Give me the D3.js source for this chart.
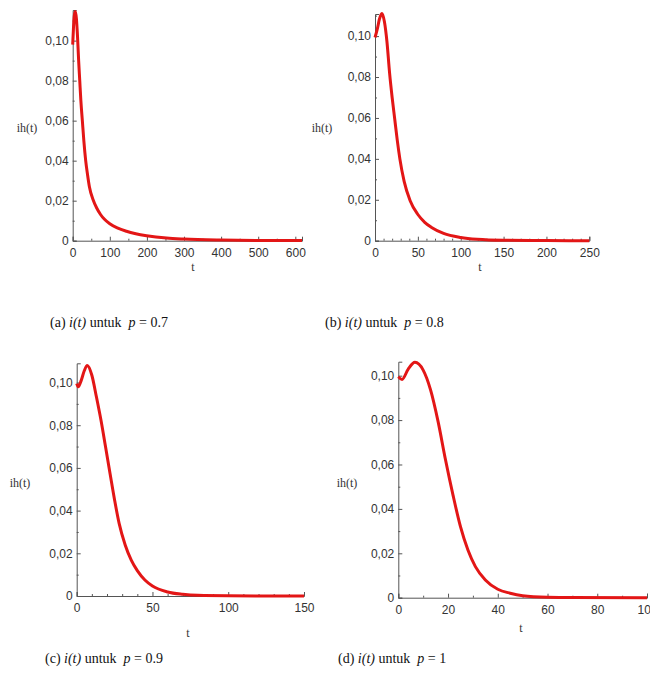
<!DOCTYPE html>
<html>
<head>
<meta charset="utf-8">
<script src="https://cdn.jsdelivr.net/npm/d3@7/dist/d3.min.js"></script>
<style>
body { margin: 0; background: #fff; }
.tick text { font-family: "Liberation Sans", sans-serif; font-size: 12px; fill: #333; }
</style>
</head>
<body>
<div id="chart"></div>
<script>
// series: t and ih(t) for each p
var tA = [0, 2, 4, 7, 10, 13, 16, 19, 22, 26, 30, 35, 40, 45, 55, 65, 75, 85, 100, 120, 145, 170, 199, 253, 300, 400, 500, 618];
var iA = [0.098, 0.106, 0.112, 0.1145, 0.111, 0.102, 0.090, 0.080, 0.070, 0.060, 0.050, 0.040, 0.033, 0.027, 0.0205, 0.0162, 0.0131, 0.0108, 0.0085, 0.0064, 0.0047, 0.0035, 0.0025, 0.0013, 0.0008, 0.0003, 0.0001, 0.00005];

var tB = [0, 3, 5, 8, 11, 14, 17, 20, 23, 26, 29, 34, 41, 50, 58, 66, 80, 100, 119, 150, 200, 250];
var iB = [0.0993, 0.104, 0.108, 0.111, 0.107, 0.097, 0.082, 0.070, 0.0595, 0.049, 0.040, 0.029, 0.0195, 0.0128, 0.009, 0.0065, 0.0036, 0.0016, 0.0007, 0.0002, 0.00005, 0];

var tC = [0, 1, 3, 5, 7, 10, 13, 16, 19, 22, 25, 28, 32, 36, 40, 45, 50, 60, 70, 80, 100, 150];
var iC = [0.0995, 0.098, 0.101, 0.1055, 0.108, 0.1034, 0.0933, 0.0824, 0.070, 0.0574, 0.045, 0.034, 0.0239, 0.0168, 0.0119, 0.0075, 0.0047, 0.0019, 0.0008, 0.0003, 0.0001, 0];

var tD = [0, 1.5, 4, 6.7, 10, 13, 16, 19, 22, 25, 28, 31, 35, 40, 45, 50, 60, 70, 100];
var iD = [0.0995, 0.0983, 0.103, 0.106, 0.1025, 0.0935, 0.0793, 0.062, 0.0462, 0.032, 0.0215, 0.014, 0.008, 0.0038, 0.002, 0.0009, 0.0002, 0.00005, 0];

// tick values
var yMajor = [0, 0.02, 0.04, 0.06, 0.08, 0.10];
var yMinor = [0.01, 0.03, 0.05, 0.07, 0.09, 0.11];
var xMajorA = [0, 100, 200, 300, 400, 500, 600];
var xMajorB = [0, 50, 100, 150, 200, 250];
var xMajorC = [0, 50, 100, 150];
var xMajorD = [0, 20, 40, 60, 80, 100];
var xMinorA = [50, 150, 250, 350, 450, 550];
var xMinorB = [10, 20, 30, 40, 60, 70, 80, 90, 110, 120, 130, 140, 160, 170, 180, 190, 210, 220, 230, 240];
var xMinorC = [10, 20, 30, 40, 60, 70, 80, 90, 110, 120, 130, 140];
var xMinorD = [10, 30, 50, 70, 90];

// caption labels
var letters = ["a", "b", "c", "d"];
var pValues = ["0.7", "0.8", "0.9", "1"];

var W = 650, H = 677;
var svg = d3.select("#chart").append("svg")
	.attr("width", W)
	.attr("height", H);

// panel geometry (pixel frame of each plot)
var panels = [
	{t: tA, v: iA, xMax: 618, yMax: 0.1153, x0: 72.7, x1: 302, y0: 240.7, y1: 10, xMaj: xMajorA, xMin: xMinorA, yl: [27, 132], tl: [193, 271], cap: [50, 327]},
	{t: tB, v: iB, xMax: 250, yMax: 0.1108, x0: 375, x1: 589.3, y0: 240.7, y1: 14, xMaj: xMajorB, xMin: xMinorB, yl: [322, 132], tl: [480, 271], cap: [325, 327]},
	{t: tC, v: iC, xMax: 150, yMax: 0.109, x0: 76.7, x1: 304, y0: 596, y1: 363.3, xMaj: xMajorC, xMin: xMinorC, yl: [20, 487], tl: [188, 637], cap: [45, 663]},
	{t: tD, v: iD, xMax: 100, yMax: 0.1063, x0: 398.3, x1: 647, y0: 597.7, y1: 361.7, xMaj: xMajorD, xMin: xMinorD, yl: [347, 487], tl: [521, 632], cap: [338, 663]}
];

var fmtY = function(d) {
	return d === 0 ? "0" : d3.format(".2f")(d).replace(".", ",");
};

panels.forEach(function(p, k) {
	var x = d3.scaleLinear().domain([0, p.xMax]).range([p.x0, p.x1]);
	var y = d3.scaleLinear().domain([0, p.yMax]).range([p.y0, p.y1]);
	var g = svg.append("g");

	// x axis, ticks drawn upward inside the plot
	var gx = g.append("g")
		.attr("transform", "translate(0," + p.y0 + ")")
		.call(d3.axisTop(x).tickValues(p.xMaj).tickSize(4).tickFormat(d3.format("d")));
	gx.selectAll(".tick text").attr("y", 16).attr("dy", 0);
	g.append("g")
		.attr("transform", "translate(0," + p.y0 + ")")
		.call(d3.axisTop(x).tickValues(p.xMin).tickSize(2).tickFormat(""))
		.select(".domain").remove();

	// y axis, ticks drawn rightward
	var gy = g.append("g")
		.attr("transform", "translate(" + p.x0 + ",0)")
		.call(d3.axisRight(y).tickValues(yMajor).tickSize(4).tickFormat(fmtY));
	gy.selectAll(".tick text").attr("x", -4).attr("text-anchor", "end");
	g.append("g")
		.attr("transform", "translate(" + p.x0 + ",0)")
		.call(d3.axisRight(y).tickValues(yMinor.filter(function(d) { return d <= p.yMax; })).tickSize(2).tickFormat(""))
		.select(".domain").remove();

	g.selectAll(".domain, .tick line").attr("stroke", "#555").attr("stroke-width", 1);

	// curve
	var pts = p.t.map(function(t, i) { return [t, p.v[i]]; });
	g.append("path")
		.datum(pts)
		.attr("fill", "none")
		.attr("stroke", "#e31616")
		.attr("stroke-width", 3)
		.attr("stroke-linejoin", "round")
		.attr("d", d3.line()
			.x(function(d) { return x(d[0]); })
			.y(function(d) { return y(d[1]); })
			.curve(d3.curveMonotoneX));

	// axis names
	g.append("text")
		.attr("x", p.yl[0]).attr("y", p.yl[1])
		.attr("text-anchor", "middle")
		.style("font-family", "Liberation Serif, serif")
		.style("font-size", "12px")
		.attr("fill", "#333")
		.text("ih(t)");
	g.append("text")
		.attr("x", p.tl[0]).attr("y", p.tl[1])
		.attr("text-anchor", "middle")
		.style("font-family", "Liberation Serif, serif")
		.style("font-size", "12px")
		.attr("fill", "#333")
		.text("t");

	// caption
	var cap = svg.append("text")
		.attr("x", p.cap[0]).attr("y", p.cap[1])
		.style("font-family", "Liberation Serif, serif")
		.style("font-size", "14px")
		.style("white-space", "pre")
		.attr("fill", "#111");
	cap.append("tspan").text("(" + letters[k] + ") ");
	cap.append("tspan").style("font-style", "italic").text("i(t)");
	cap.append("tspan").text(" untuk  ");
	cap.append("tspan").style("font-style", "italic").text("p");
	cap.append("tspan").text(" = " + pValues[k]);
});
</script>
</body>
</html>
